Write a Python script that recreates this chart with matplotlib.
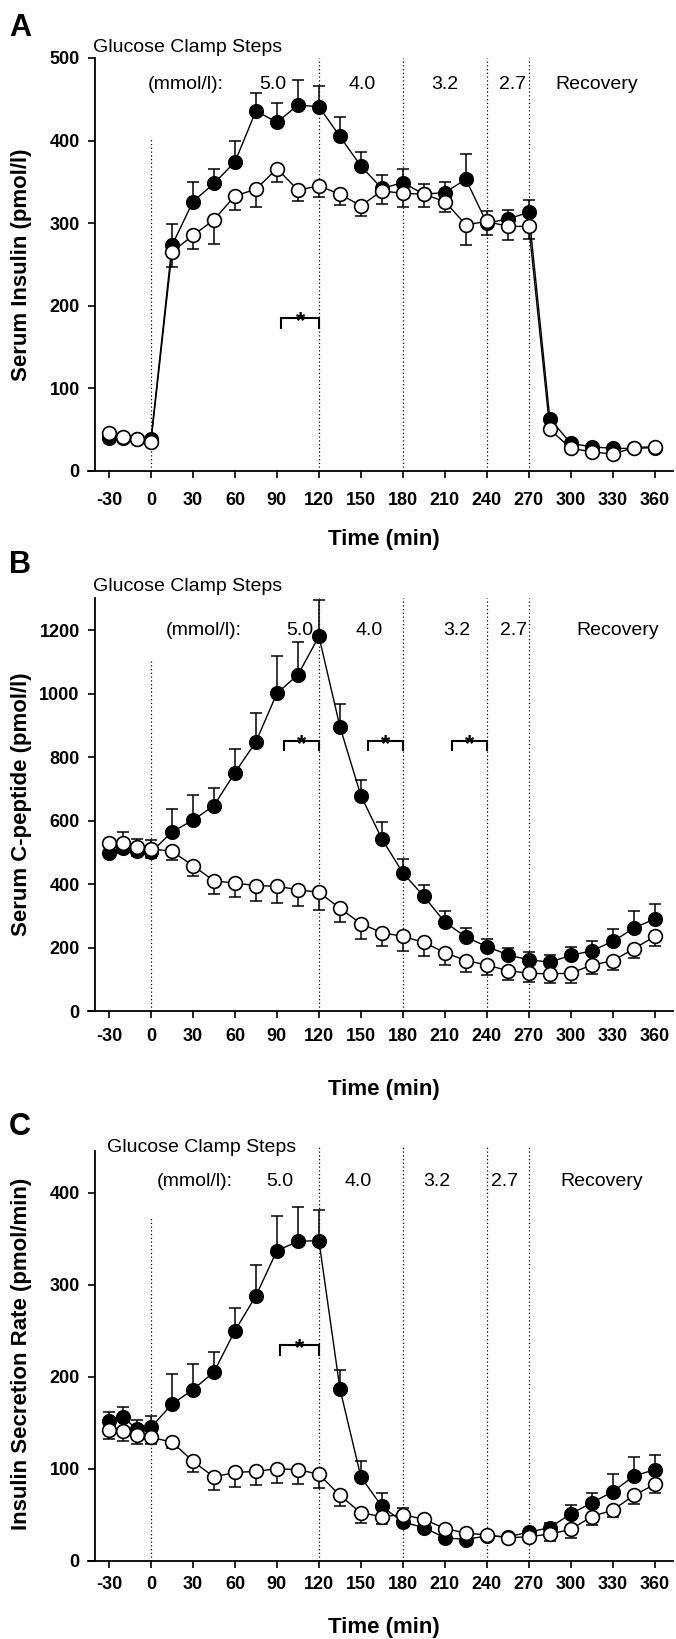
import matplotlib
matplotlib.use('Agg')
import matplotlib.pyplot as plt
import matplotlib.transforms as mtransforms
import numpy as np

plt.rcParams['font.family'] = ['Liberation Sans', 'DejaVu Sans']
plt.rcParams['axes.unicode_minus'] = False

# ---------------- data ----------------
time_min = [-30, -20, -10, 0, 15, 30, 45, 60, 75, 90, 105, 120, 135, 150, 165,
            180, 195, 210, 225, 240, 255, 270, 285, 300, 315, 330, 345, 360]
x_ticks = list(range(-30, 361, 30))
step_lines = [120, 180, 240, 270]
step_labels = ['(mmol/l):', '5.0', '4.0', '3.2', '2.7', 'Recovery']

# Panel A: serum insulin (pmol/l)
insulin_filled = [40, 40, 38, 38, 273, 326, 348, 374, 436, 422, 443, 441, 405, 369, 342,
                  349, 335, 337, 353, 300, 305, 313, 63, 33, 29, 27, 27, 28]
insulin_filled_err = [0, 0, 0, 0, 26, 24, 17, 25, 21, 23, 30, 25, 23, 17, 16,
                      17, 12, 13, 31, 15, 11, 15, 0, 0, 0, 0, 0, 0]
insulin_open = [46, 41, 39, 35, 265, 285, 304, 333, 341, 366, 340, 345, 335, 321, 339,
                336, 335, 326, 298, 302, 296, 296, 50, 27, 23, 20, 28, 29]
insulin_open_err = [0, 0, 0, 0, 18, 16, 29, 17, 21, 16, 13, 13, 13, 13, 16,
                    16, 15, 13, 25, 17, 17, 15, 0, 0, 0, 0, 0, 0]

# Panel B: serum C-peptide (pmol/l)
cpep_filled = [498, 512, 505, 500, 564, 601, 647, 751, 848, 1001, 1059, 1180, 896, 678, 542,
               435, 361, 280, 233, 203, 177, 161, 154, 175, 190, 219, 261, 290]
cpep_filled_err = [0, 51, 37, 38, 73, 78, 55, 75, 90, 116, 104, 114, 70, 51, 53,
                   44, 37, 34, 28, 24, 23, 24, 23, 26, 32, 39, 53, 47]
cpep_open = [529, 529, 517, 511, 503, 458, 410, 403, 395, 393, 382, 374, 324, 275, 247,
             235, 216, 184, 159, 145, 127, 119, 117, 119, 145, 158, 196, 235]
cpep_open_err = [0, 31, 30, 29, 26, 32, 41, 45, 50, 53, 50, 55, 45, 48, 41,
                 45, 44, 39, 37, 33, 29, 28, 30, 32, 29, 29, 30, 30]

# Panel C: insulin secretion rate (pmol/min)
isr_filled = [152, 156, 143, 145, 170, 186, 205, 250, 288, 337, 347, 348, 187, 91, 59,
              42, 36, 25, 23, 27, 26, 31, 36, 51, 63, 75, 92, 99]
isr_filled_err = [10, 11, 10, 12, 33, 28, 22, 25, 33, 38, 38, 33, 20, 17, 15,
                  15, 0, 0, 0, 0, 0, 4, 5, 10, 11, 19, 21, 16]
isr_open = [142, 141, 137, 134, 129, 108, 91, 96, 97, 100, 99, 94, 71, 52, 48,
            50, 45, 35, 30, 28, 25, 26, 29, 34, 48, 55, 71, 83]
isr_open_err = [10, 11, 10, 7, 7, 12, 14, 16, 15, 16, 16, 15, 11, 11, 8,
                5, 3, 3, 2, 2, 2, 3, 8, 9, 9, 8, 9, 9]

# ---------------- layout (pixel based) ----------------
W, H = 676, 1639
fig = plt.figure(figsize=(W / 100, H / 100), dpi=100)

panels = [
    dict(letter='A', letter_y=28, ylabel='Serum Insulin (pmol/l)',
         top=58.0, bottom=470.7, ylim=500, spine_top=500, yticks=[0, 100, 200, 300, 400, 500],
         filled=insulin_filled, ferr=insulin_filled_err, open=insulin_open, oerr=insulin_open_err,
         title_xy=(-41.5, 513), row_y=468, row_x=[25, 87, 151, 210, 258.6, 318.6],
         zero_top=403, brackets=[(93, 120)], br_y=185, br_h=12, xpad=10, time_top=529),
    dict(letter='B', letter_y=565, ylabel='Serum C-peptide (pmol/l)',
         top=598.3, bottom=1011.0, ylim=1300, spine_top=1300, yticks=[0, 200, 400, 600, 800, 1000, 1200],
         filled=cpep_filled, ferr=cpep_filled_err, open=cpep_open, oerr=cpep_open_err,
         title_xy=(-41.5, 1336), row_y=1200, row_x=[38, 106, 156, 218.6, 259, 333.6],
         zero_top=1103, brackets=[(95, 120), (155, 180), (215, 240)], br_y=852, br_h=30,
         xpad=7, time_top=1079),
    dict(letter='C', letter_y=1127, ylabel='Insulin Secretion Rate (pmol/min)',
         top=1146.7, bottom=1560.7, ylim=450, spine_top=445, yticks=[0, 100, 200, 300, 400],
         filled=isr_filled, ferr=isr_filled_err, open=isr_open, oerr=isr_open_err,
         title_xy=(-31.5, 449), row_y=412, row_x=[31.4, 92, 148, 204, 253, 322],
         zero_top=372, brackets=[(92, 120)], br_y=235, br_h=11, xpad=6, time_top=1617),
]

left_px, right_px = 95, 673

for p in panels:
    ax = fig.add_axes([left_px / W, 1 - p['bottom'] / H,
                       (right_px - left_px) / W, (p['bottom'] - p['top']) / H])
    ax.set_xlim(-40, 373)
    ax.set_ylim(0, p['ylim'])
    for s in ('top', 'right'):
        ax.spines[s].set_visible(False)
    ax.spines['left'].set_bounds(0, p['spine_top'])
    ax.spines['bottom'].set_bounds(-45, 373)
    for s in ('left', 'bottom'):
        ax.spines[s].set_linewidth(1.3)

    ax.set_xticks(x_ticks)
    ax.set_yticks(p['yticks'])
    ax.tick_params(axis='both', direction='out', length=5, width=1.2, labelsize=13)
    ax.tick_params(axis='y', pad=6)
    ax.tick_params(axis='x', pad=p['xpad'])
    for lbl in ax.get_xticklabels() + ax.get_yticklabels():
        lbl.set_fontweight('bold')

    # vertical dotted step lines
    ax.vlines([0], 0, p['zero_top'], colors='black', linestyles=(0, (1, 2)), linewidth=0.9, zorder=1)
    ax.vlines(step_lines, 0, p['ylim'], colors='black', linestyles=(0, (1, 2)), linewidth=0.9, zorder=1)

    n = len(time_min)
    zeros = np.zeros(n)
    ax.errorbar(time_min, p['filled'], yerr=[zeros, p['ferr']], fmt='none', ecolor='black',
                elinewidth=1.1, capsize=4.6, capthick=1.1, zorder=2)
    ax.plot(time_min, p['filled'], '-o', color='black', mfc='black', mec='black',
            ms=9.9, mew=1.0, lw=1.0, zorder=3)
    ax.errorbar(time_min, p['open'], yerr=[p['oerr'], zeros], fmt='none', ecolor='black',
                elinewidth=1.1, capsize=4.6, capthick=1.1, zorder=4)
    ax.plot(time_min, p['open'], '-o', color='black', mfc='white', mec='black',
            ms=9.9, mew=1.2, lw=1.0, zorder=5)

    # significance brackets
    star_tr = mtransforms.offset_copy(ax.transData, fig=fig, x=0, y=-4, units='dots')
    for (x0, x1) in p['brackets']:
        y1 = p['br_y']
        y0 = y1 - p['br_h']
        ax.plot([x0, x0, x1, x1], [y0, y1, y1, y0], color='black', lw=1.5, zorder=6,
                solid_joinstyle='miter')
        ax.text((x0 + x1) / 2, y1, '*', ha='center', va='center', fontsize=17,
                fontweight='bold', zorder=7, transform=star_tr)

    # text annotations
    ax.text(p['title_xy'][0], p['title_xy'][1], 'Glucose Clamp Steps', ha='left', va='center',
            fontsize=14, clip_on=False)
    for xx, s in zip(p['row_x'], step_labels):
        ax.text(xx, p['row_y'], s, ha='center', va='center', fontsize=14, clip_on=False)

    ax.set_ylabel(p['ylabel'], fontsize=16, fontweight='bold')
    ax.yaxis.set_label_coords((32 - left_px) / (right_px - left_px), 0.5)
    ax.set_xlabel('Time (min)', fontsize=16, fontweight='bold')
    ax.xaxis.set_label_coords(0.5, -(p['time_top'] - p['bottom']) / (p['bottom'] - p['top']))

    fig.text(9 / W, 1 - p['letter_y'] / H, p['letter'], ha='left', va='center',
             fontsize=22, fontweight='bold')

fig.savefig('out.png', dpi=100)
